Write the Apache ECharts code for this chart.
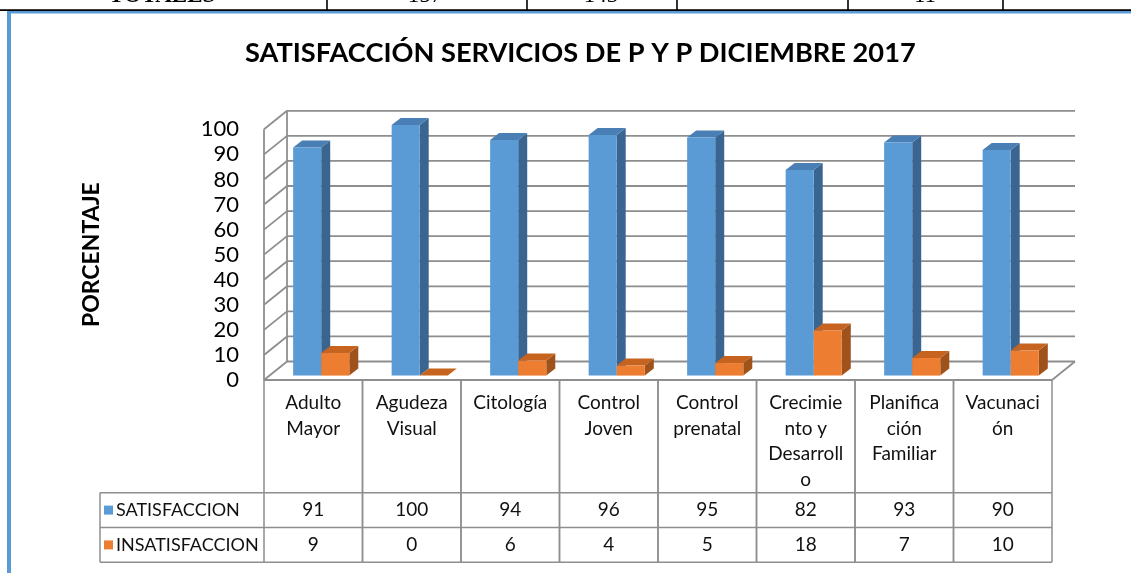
<!DOCTYPE html>
<html>
<head>
<meta charset="utf-8">
<script src="https://cdn.jsdelivr.net/npm/echarts@6/dist/echarts.min.js"></script>
<style>
  html, body { margin: 0; padding: 0; background: #fff; }
  #chart { width: 1131px; height: 573px; }
</style>
</head>
<body>
<div id="chart"></div>
<script>
// datos
var categorias = ['Adulto Mayor', 'Agudeza Visual', 'Citología', 'Control Joven', 'Control prenatal', 'Crecimiento y Desarrollo', 'Planificación Familiar', 'Vacunación'];
// etiquetas tal como se parten en la tabla
var etiquetas = ['Adulto\nMayor', 'Agudeza\nVisual', 'Citología', 'Control\nJoven', 'Control\nprenatal', 'Crecimie\nnto y\nDesarroll\no', 'Planifica\nción\nFamiliar', 'Vacunaci\nón'];
var satisfaccion = [91, 100, 94, 96, 95, 82, 93, 90];
var insatisfaccion = [9, 0, 6, 4, 5, 18, 7, 10];
var series = ['SATISFACCION', 'INSATISFACCION'];
var yTicks = [0, 10, 20, 30, 40, 50, 60, 70, 80, 90, 100];
// fila de totales (recortada arriba)
var totales = ['TOTALES', '157', '143', '11'];

var FONT = 'Lato, "Open Sans", sans-serif';
var GRID_COLOR = '#8e8e8e';
var DX = 23, DY = -18.5;       // profundidad de la pared
var FX = 5.5, FY = -4.4;       // cara frontal de las barras
var BDX = 9, BDY = -7;         // profundidad de las barras
var COLORS = [
  { front: '#5b9bd5', top: '#4a7fb6', side: '#3b6591' },
  { front: '#ed7d31', top: '#c6641f', side: '#a0521b' }
];
var ROW1 = 112.7, ROW2 = 147.5, ROW3 = 182.3; // desde la base del eje
var LEG_X = 100;

var myChart = echarts.init(document.getElementById('chart'));

function lineEl(x1, y1, x2, y2, color, w) {
  return { type: 'line', shape: { x1: x1, y1: y1, x2: x2, y2: y2 }, style: { stroke: color, lineWidth: w } };
}

//paredes y rejilla 3D
function renderWalls(params, api) {
  var cs = params.coordSys;
  var x0 = cs.x, x1 = cs.x + cs.width;
  var y0 = api.coord([0, 0])[1];
  var y100 = api.coord([0, 100])[1];
  var ch = [];
  for (var k = 0; k < yTicks.length; k++) {
    var y = api.coord([0, yTicks[k]])[1];
    ch.push(lineEl(x0 + DX, y + DY, x1 + DX, y + DY, GRID_COLOR, 1.8));
    ch.push(lineEl(x0, y, x0 + DX, y + DY, GRID_COLOR, 1.8));
  }
  ch.push(lineEl(x0 + DX, y0 + DY, x0 + DX, y100 + DY, GRID_COLOR, 1.8));
  ch.push(lineEl(x0, y0, x0, y100, GRID_COLOR, 1.8));
  ch.push(lineEl(x0, y0, x1, y0, GRID_COLOR, 1.8));
  ch.push(lineEl(x1, y0, x1 + DX, y0 + DY, GRID_COLOR, 1.8));
  return { type: 'group', children: ch };
}

function barRender(idx) {
  return function(params, api) {
    var i = api.value(0), v = api.value(1);
    var base = api.coord([i, 0]), top = api.coord([i, v]);
    var bw = api.size([1, 0])[0];
    var w = bw * 0.285;
    var x0 = base[0] - bw * 0.26 + FX + idx * w;
    var x1 = x0 + w;
    var yb = base[1] + FY, yt = top[1] + FY;
    var c = COLORS[idx];
    return {
      type: 'group',
      children: [
        { type: 'polygon', shape: { points: [[x1, yt], [x1 + BDX, yt + BDY], [x1 + BDX, yb + BDY], [x1, yb]] }, style: { fill: c.side } },
        { type: 'polygon', shape: { points: [[x0, yt], [x0 + BDX, yt + BDY], [x1 + BDX, yt + BDY], [x1, yt]] }, style: { fill: c.top } },
        { type: 'rect', shape: { x: x0, y: yt, width: w, height: yb - yt }, style: { fill: c.front } }
      ]
    };
  };
}

//tabla de datos
function renderTabla(params, api) {
  var i = api.value(0);
  var base = api.coord([i, 0]);
  var bw = api.size([1, 0])[0];
  var l = base[0] - bw / 2, r = base[0] + bw / 2, y = base[1];
  var ch = [
    lineEl(l, y, l, y + ROW3, GRID_COLOR, 1.5),
    lineEl(r, y, r, y + ROW3, GRID_COLOR, 1.5),
    lineEl(l, y + ROW1, r, y + ROW1, GRID_COLOR, 1.5),
    lineEl(l, y + ROW2, r, y + ROW2, GRID_COLOR, 1.5),
    lineEl(l, y + ROW3, r, y + ROW3, GRID_COLOR, 1.5)
  ];
  var vals = [api.value(1), api.value(2)];
  var rows = [(ROW1 + ROW2) / 2, (ROW2 + ROW3) / 2];
  for (var k = 0; k < 2; k++) {
    ch.push({
      type: 'text',
      style: { text: String(vals[k]), x: base[0], y: y + rows[k], align: 'center', verticalAlign: 'middle', font: '19px ' + FONT, fill: '#111' }
    });
  }
  return { type: 'group', children: ch };
}

var barData0 = satisfaccion.map(function(v, i) { return [i, v]; });
var barData1 = insatisfaccion.map(function(v, i) { return [i, v]; });
var tablaData = categorias.map(function(c, i) { return [i, satisfaccion[i], insatisfaccion[i]]; });

// graficos fijos: borde, fila de totales, leyenda de la tabla
var yBase = 380;
var graphics = [
  { type: 'rect', shape: { x: 0, y: 9.3, width: 1131, height: 1.7 }, style: { fill: '#000' } },
  { type: 'rect', shape: { x: 7, y: 11, width: 1124, height: 2.5 }, style: { fill: '#5b9bd5' } },
  { type: 'rect', shape: { x: 7, y: 11, width: 4, height: 562 }, style: { fill: '#5b9bd5' } }
];
[327, 527, 677, 848, 1003].forEach(function(x) {
  graphics.push({ type: 'rect', shape: { x: x - 0.8, y: 0, width: 1.6, height: 10 }, style: { fill: '#000' } });
});
var totX = [162, 425, 601, 925];
totales.forEach(function(t, k) {
  graphics.push({ type: 'text', style: { text: t, x: totX[k], y: 7.5, align: 'center', verticalAlign: 'bottom', font: (k === 0 ? 'bold ' : '') + '23px "Liberation Serif", serif', fill: '#000' } });
});
graphics.push({ type: 'line', shape: { x1: LEG_X, y1: yBase + ROW1, x2: 264, y2: yBase + ROW1 }, style: { stroke: GRID_COLOR, lineWidth: 1.5 } });
graphics.push({ type: 'line', shape: { x1: LEG_X, y1: yBase + ROW2, x2: 264, y2: yBase + ROW2 }, style: { stroke: GRID_COLOR, lineWidth: 1.5 } });
graphics.push({ type: 'line', shape: { x1: LEG_X, y1: yBase + ROW3, x2: 264, y2: yBase + ROW3 }, style: { stroke: GRID_COLOR, lineWidth: 1.5 } });
graphics.push({ type: 'line', shape: { x1: LEG_X, y1: yBase + ROW1, x2: LEG_X, y2: yBase + ROW3 }, style: { stroke: GRID_COLOR, lineWidth: 1.5 } });
series.forEach(function(name, k) {
  var cy = yBase + (k === 0 ? (ROW1 + ROW2) / 2 : (ROW2 + ROW3) / 2);
  graphics.push({ type: 'rect', shape: { x: LEG_X + 4, y: cy - 4.5, width: 9, height: 9 }, style: { fill: COLORS[k].front } });
  graphics.push({ type: 'text', style: { text: name, x: LEG_X + 16, y: cy, align: 'left', verticalAlign: 'middle', font: '18px ' + FONT, fill: '#111' } });
});

var option = {
  backgroundColor: '#fff',
  animation: false,
  title: {
    text: 'SATISFACCIÓN SERVICIOS DE P Y P DICIEMBRE 2017',
    left: 240,
    top: 35,
    textStyle: { fontFamily: FONT, fontWeight: 'bold', fontSize: 27.2, color: '#000' }
  },
  grid: { left: 264, right: 79, top: 129.3, bottom: 193 },
  xAxis: {
    type: 'category',
    data: categorias,
    axisLine: { show: false },
    axisTick: { show: false },
    axisLabel: {
      interval: 0,
      margin: 10,
      verticalAlign: 'top',
      lineHeight: 25.6,
      fontFamily: FONT,
      fontSize: 19,
      color: '#111',
      formatter: function(v, i) { return etiquetas[i]; }
    }
  },
  yAxis: {
    type: 'value',
    min: 0,
    max: 100,
    interval: 10,
    name: 'PORCENTAJE',
    nameLocation: 'middle',
    nameRotate: 90,
    nameGap: 161,
    nameTextStyle: { fontFamily: FONT, fontWeight: 'bold', fontSize: 23, color: '#000' },
    axisLine: { show: false },
    axisTick: { show: false },
    splitLine: { show: false },
    axisLabel: { margin: 25, fontFamily: FONT, fontSize: 22, color: '#000' }
  },
  graphic: graphics,
  series: [
    { type: 'custom', name: 'paredes', renderItem: renderWalls, data: [[0, 0]], encode: { x: 0, y: 1 }, silent: true, z: 1 },
    { type: 'custom', name: series[0], renderItem: barRender(0), data: barData0, encode: { x: 0, y: 1 }, z: 2 },
    { type: 'custom', name: series[1], renderItem: barRender(1), data: barData1, encode: { x: 0, y: 1 }, z: 2 },
    { type: 'custom', name: 'tabla', renderItem: renderTabla, data: tablaData, encode: { x: 0, y: 1 }, silent: true, z: 3 }
  ]
};
myChart.setOption(option);
</script>
</body>
</html>
